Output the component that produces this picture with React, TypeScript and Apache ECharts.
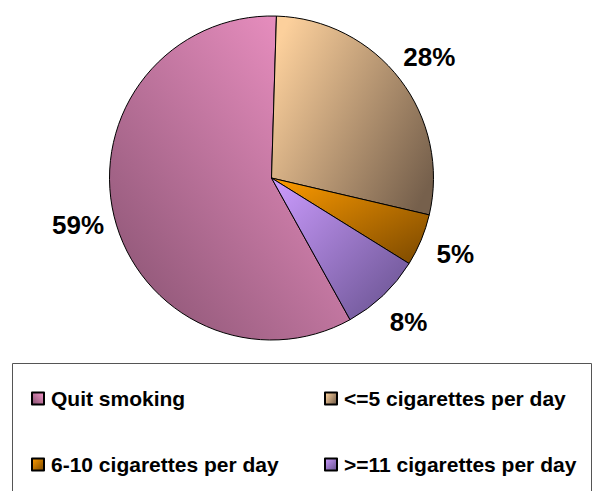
import React, { useEffect, useRef } from "react";
import * as echarts from "echarts";

// ---- data ----
const categories = [
  "Quit smoking",
  "<=5 cigarettes per day",
  "6-10 cigarettes per day",
  ">=11 cigarettes per day",
];
const values = [58.6, 28.2, 5.2, 8.1];
const legendColumn1 = ["Quit smoking", "6-10 cigarettes per day"];
const legendColumn2 = ["<=5 cigarettes per day", ">=11 cigarettes per day"];

// ---- styles ----
const sliceGradients: [number, number, number, number, string, string][] = [
  [1, 0, 0, 1, "#F898CC", "#84506E"],
  [0, 0.2, 1, 0.8, "#FCD09C", "#76604C"],
  [0, 0, 1, 1, "#FF9C00", "#7A4800"],
  [0, 0, 1, 1, "#CC9CFF", "#65508C"],
];
const FONT = "'Liberation Sans', Arial, Helvetica, sans-serif";

export default function App() {
  const ref = useRef<HTMLDivElement>(null);
  useEffect(() => {
    const chart = echarts.init(ref.current!, null, { renderer: "svg" });
    const grad = (i: number) => {
      const [x, y, x2, y2, c1, c2] = sliceGradients[i];
      return new echarts.graphic.LinearGradient(x, y, x2, y2, [
        { offset: 0, color: c1 },
        { offset: 1, color: c2 },
      ]);
    };
    const pieData = categories.map((name, i) => ({
      name,
      value: values[i],
      itemStyle: { color: grad(i) },
    }));
    const labelData = categories.map((name, i) => ({ name, value: values[i] }));
    const legendCommon = {
      orient: "vertical",
      top: 388,
      padding: 0,
      itemGap: 45,
      itemWidth: 12,
      itemHeight: 12,
      icon: "rect",
      selectedMode: false,
      textStyle: {
        fontSize: 21,
        fontWeight: "bold",
        color: "#000",
        fontFamily: FONT,
        padding: [0, 0, 0, 2],
      },
    };
    chart.setOption({
      animation: false,
      backgroundColor: "#ffffff",
      textStyle: { fontFamily: FONT },
      legend: [
        { ...legendCommon, data: legendColumn1, left: 31 },
        { ...legendCommon, data: legendColumn2, left: 324 },
      ],
      graphic: [
        {
          type: "rect",
          silent: true,
          z: -1,
          shape: { x: 12.5, y: 363.5, width: 579, height: 140 },
          style: { fill: "none", stroke: "#555", lineWidth: 1 },
        },
      ],
      series: [
        {
          type: "pie",
          name: "Smoking",
          center: [271.5, 178],
          radius: 162,
          startAngle: 299,
          clockwise: true,
          data: pieData,
          label: { show: false },
          labelLine: { show: false },
          itemStyle: { borderColor: "#000", borderWidth: 1 },
          emphasis: { disabled: true },
        },
        {
          type: "pie",
          name: "Labels",
          center: [271.5, 178],
          radius: [180, 212],
          startAngle: 299,
          clockwise: true,
          silent: true,
          legendHoverLink: false,
          data: labelData,
          itemStyle: { color: "rgba(0,0,0,0)", borderWidth: 0 },
          label: {
            show: true,
            position: "inside",
            formatter: (p: any) => Math.round(p.percent) + "%",
            fontSize: 26,
            fontWeight: "bold",
            color: "#000",
            fontFamily: FONT,
          },
          labelLine: { show: false },
          emphasis: { disabled: true },
        },
      ],
    });
    return () => chart.dispose();
  }, []);
  return (
    <div
      ref={ref}
      style={{ position: "absolute", left: 0, top: 0, width: 598, height: 491 }}
    />
  );
}
